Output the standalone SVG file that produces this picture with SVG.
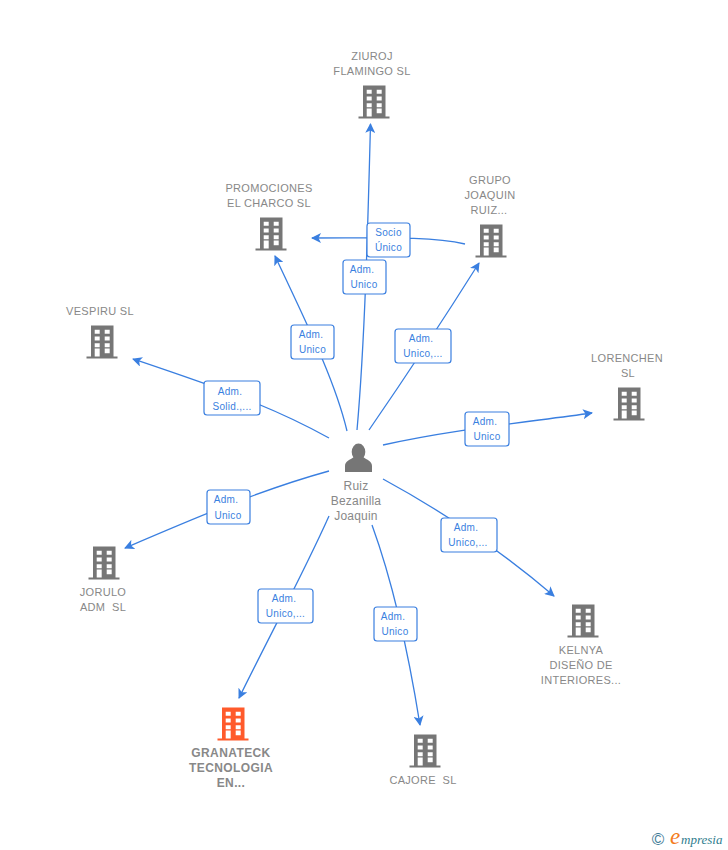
<svg xmlns="http://www.w3.org/2000/svg" width="728" height="850" viewBox="0 0 728 850">
<style>
text{font-family:"Liberation Sans",Arial,sans-serif;white-space:pre}
.n{font-size:11px;fill:#888;text-anchor:middle;letter-spacing:.3px}
.p{font-size:12px;letter-spacing:.2px}
.g{font-size:12px;font-weight:bold;letter-spacing:.4px}
.e{fill:none;stroke:#3a7fe0;stroke-width:1.3}
.lb{fill:#fff;stroke:#3a7fe0;stroke-width:1.2}
.lt{font-size:10px;fill:#3a7fe0;text-anchor:middle;letter-spacing:.3px}
.gr{fill:#767676}
.or{fill:#ff5a2b}
</style>
<defs>
<marker id="a" viewBox="0 0 10 10" refX="9" refY="5" markerWidth="10" markerHeight="10" markerUnits="userSpaceOnUse" orient="auto"><path d="M0 0L10 5L0 10L2.5 5Z" fill="#3a7fe0"/></marker>
<path id="w" fill-rule="evenodd" d="M-11-16.500H11.500V14.500H15.500V16.500H-15.500V14.500H-11ZM-7.300-12.200V-8.200H-2.300V-12.200ZM2.700-12.200V-8.200H7.700V-12.200ZM-7.300-5.500V-1.500H-2.300V-5.500ZM2.700-5.500V-1.500H7.700V-5.500ZM-7.300 1.200V5.200H-2.300V1.200ZM2.700 1.200V5.200H7.700V1.200ZM-7.300 6.500V14.500H-2.300V6.500ZM2.700 6.500V11.200H7.700V6.500Z"/>
</defs>
<g id="connectors">
<path class="e" marker-end="url(#a)" d="M357 430C365 340 368 220 370.500 124"/>
<path class="e" marker-end="url(#a)" d="M465 244C430 236 380 238 312 238"/>
<path class="e" marker-end="url(#a)" d="M347 431C335 380 305 320 275 256"/>
<path class="e" marker-end="url(#a)" d="M369 430C400 385 440 325 479 263"/>
<path class="e" marker-end="url(#a)" d="M329 438C270 405 210 385 133 359"/>
<path class="e" marker-end="url(#a)" d="M383 445C450 430 520 423 592 413"/>
<path class="e" marker-end="url(#a)" d="M329 471C260 490 195 518 125 548"/>
<path class="e" marker-end="url(#a)" d="M383 479C440 510 500 550 554 596"/>
<path class="e" marker-end="url(#a)" d="M329 516C305 570 270 635 239 698"/>
<path class="e" marker-end="url(#a)" d="M372 525C392 580 408 650 420 725"/>
</g>
<g id="edge-labels">
<g><rect class="lb" x="367" y="223" width="43" height="34" rx="3"/><text class="lt" x="388.500" y="236">Socio</text><text class="lt" x="388.500" y="251">Único</text></g>
<g><rect class="lb" x="343" y="260" width="43" height="34" rx="3"/><text class="lt" x="362" y="273">Adm.</text><text class="lt" x="364" y="288">Unico</text></g>
<g><rect class="lb" x="291" y="325" width="43" height="34" rx="3"/><text class="lt" x="311" y="338">Adm.</text><text class="lt" x="312.500" y="353">Unico</text></g>
<g><rect class="lb" x="395" y="329" width="56" height="34" rx="3"/><text class="lt" x="421" y="342">Adm.</text><text class="lt" x="423" y="357">Unico,...</text></g>
<g><rect class="lb" x="204" y="381" width="56" height="34" rx="3"/><text class="lt" x="230" y="395">Adm.</text><text class="lt" x="232" y="410">Solid.,...</text></g>
<g><rect class="lb" x="465" y="412" width="44" height="34" rx="3"/><text class="lt" x="485" y="425">Adm.</text><text class="lt" x="487" y="440">Unico</text></g>
<g><rect class="lb" x="207" y="490" width="43" height="34" rx="3"/><text class="lt" x="226" y="503">Adm.</text><text class="lt" x="228" y="519">Unico</text></g>
<g><rect class="lb" x="441" y="518" width="56" height="34" rx="3"/><text class="lt" x="466" y="531">Adm.</text><text class="lt" x="468" y="546">Unico,...</text></g>
<g><rect class="lb" x="258" y="589" width="55" height="34" rx="3"/><text class="lt" x="284" y="602">Adm.</text><text class="lt" x="285.500" y="617">Unico,...</text></g>
<g><rect class="lb" x="374" y="607" width="43" height="34" rx="3"/><text class="lt" x="393" y="620">Adm.</text><text class="lt" x="395" y="635">Unico</text></g>
</g>
<g id="ziuroj"><text class="n" x="372" y="60">ZIUROJ</text><text class="n" x="372" y="75">FLAMINGO SL</text><use href="#w" class="gr" x="374" y="102"/></g>
<g id="promociones"><text class="n" x="269" y="192">PROMOCIONES</text><text class="n" x="269" y="207">EL CHARCO SL</text><use href="#w" class="gr" x="271" y="234"/></g>
<g id="grupo"><text class="n" x="490" y="184">GRUPO</text><text class="n" x="490" y="199">JOAQUIN</text><text class="n" x="489" y="214">RUIZ...</text><use href="#w" class="gr" x="491" y="241"/></g>
<g id="vespiru"><text class="n" x="100" y="315">VESPIRU SL</text><use href="#w" class="gr" x="102" y="342"/></g>
<g id="lorenchen"><text class="n" x="627" y="362">LORENCHEN</text><text class="n" x="628" y="377">SL</text><use href="#w" class="gr" x="629" y="404"/></g>
<g id="person"><ellipse class="gr" cx="358.500" cy="452" rx="6.800" ry="8.500"/><path class="gr" d="M345 472V466C345 461 350 460 354 457L363 457C367 460 372 461 372 466V472Z"/><text class="n p" x="356" y="490">Ruiz</text><text class="n p" x="356" y="505">Bezanilla</text><text class="n p" x="356" y="520">Joaquin</text></g>
<g id="jorulo"><use href="#w" class="gr" x="104" y="563"/><text class="n" x="103" y="596">JORULO</text><text class="n" x="103" y="611">ADM  SL</text></g>
<g id="kelnya"><use href="#w" class="gr" x="583" y="621"/><text class="n" x="581" y="654">KELNYA</text><text class="n" x="581" y="669">DISEÑO DE</text><text class="n" x="581" y="684">INTERIORES...</text></g>
<g id="granateck"><use href="#w" class="or" x="233" y="724"/><text class="n g" x="231" y="757">GRANATECK</text><text class="n g" x="231" y="772">TECNOLOGIA</text><text class="n g" x="231" y="787">EN...</text></g>
<g id="cajore"><use href="#w" class="gr" x="425" y="751"/><text class="n" x="423" y="784">CAJORE  SL</text></g>
<g id="brand"><text x="658" y="845" font-size="17" fill="#3f7c97" text-anchor="middle">©</text><text x="670" y="844" font-size="23" font-style="italic" fill="#f47b20" style="font-family:'Liberation Serif',serif">e</text><text x="681" y="844" font-size="13" font-style="italic" fill="#2f7d8e" style="font-family:'Liberation Serif',serif">mpresia</text></g>
</svg>
